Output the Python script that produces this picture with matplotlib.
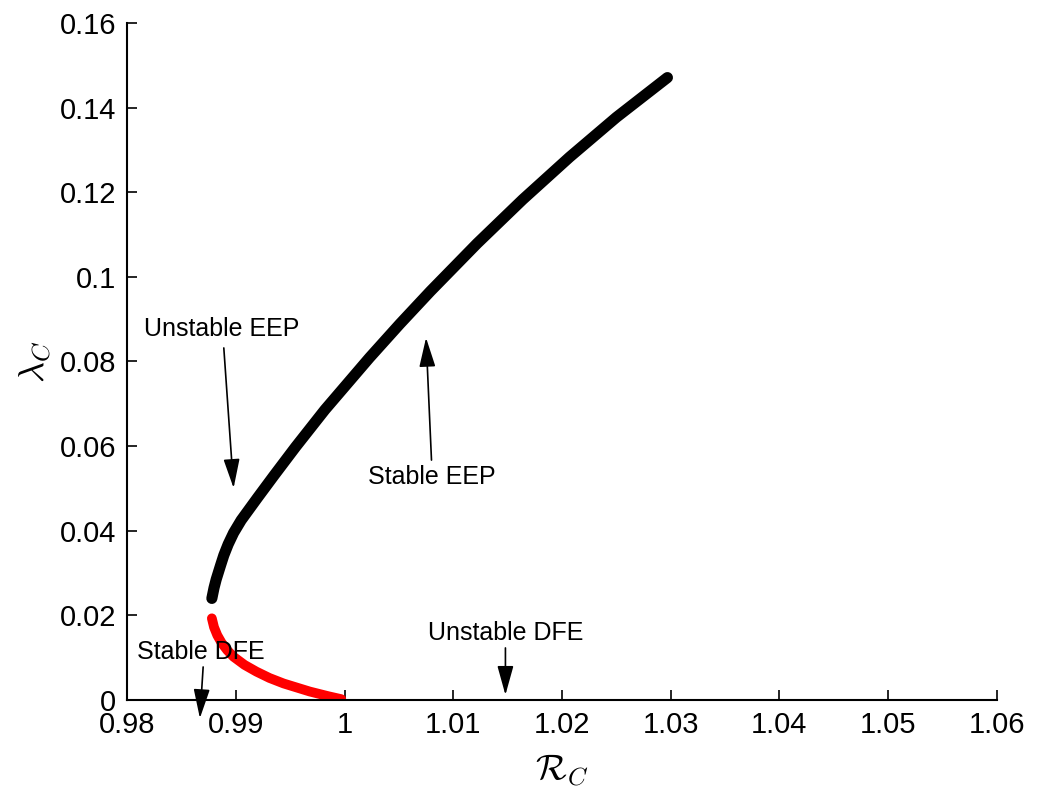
import matplotlib.pyplot as plt

plt.rcParams['font.family'] = ['Liberation Sans', 'DejaVu Sans']
plt.rcParams['mathtext.fontset'] = 'cm'

# endemic equilibrium branch (black)
eep_r = [0.9878, 0.9880, 0.9882, 0.9886, 0.9889, 0.9893, 0.9898, 0.9905,
         0.9920, 0.9935, 0.9955, 0.9982, 1.0023, 1.0051, 1.0079, 1.0122,
         1.0164, 1.0207, 1.0250, 1.0297]
eep_lam = [0.0240, 0.0265, 0.0285, 0.0318, 0.0342, 0.0368, 0.0395, 0.0425,
           0.0478, 0.0530, 0.0598, 0.0686, 0.0809, 0.0889, 0.0966, 0.1079,
           0.1183, 0.1283, 0.1377, 0.1471]

# lower branch down to R_C = 1 (red)
red_r = [0.9878, 0.9880, 0.9883, 0.9887, 0.9892, 0.9898, 0.9908, 0.9919,
         0.9931, 0.9944, 0.9968, 0.9985, 0.9997]
red_lam = [0.0193, 0.0172, 0.0153, 0.0135, 0.0118, 0.0102, 0.0083, 0.0067,
           0.0052, 0.0039, 0.0020, 0.0009, 0.0002]

xticks = [0.98, 0.99, 1.0, 1.01, 1.02, 1.03, 1.04, 1.05, 1.06]
xticklabels = ['0.98', '0.99', '1', '1.01', '1.02', '1.03', '1.04', '1.05', '1.06']
yticks = [0, 0.02, 0.04, 0.06, 0.08, 0.1, 0.12, 0.14, 0.16]
yticklabels = ['0', '0.02', '0.04', '0.06', '0.08', '0.1', '0.12', '0.14', '0.16']

fig = plt.figure(figsize=(10.43, 7.93), dpi=100)
ax = fig.add_axes([0.1218, 0.1173, 0.834, 0.8537])

ax.plot(eep_r, eep_lam, color='black', lw=8, solid_capstyle='round',
        solid_joinstyle='round')
ax.plot(red_r, red_lam, color='red', lw=7, solid_capstyle='round',
        solid_joinstyle='round')

ax.set_xlim(0.98, 1.06)
ax.set_ylim(0, 0.16)
ax.set_xticks(xticks)
ax.set_xticklabels(xticklabels)
ax.set_yticks(yticks)
ax.set_yticklabels(yticklabels)
ax.tick_params(direction='in', length=7, width=1.2, labelsize=21, pad=8)
for side in ['top', 'right']:
    ax.spines[side].set_visible(False)
for side in ['left', 'bottom']:
    ax.spines[side].set_linewidth(1.5)

ax.set_xlabel(r'$\mathcal{R}_C$', fontsize=26, labelpad=10)
ax.set_ylabel(r'$\lambda_C$', fontsize=26, labelpad=4)

arrow = dict(arrowstyle='-|>,head_length=0.9,head_width=0.25', color='black',
             lw=1.2, mutation_scale=20, shrinkA=0, shrinkB=0)

ax.text(0.9887, 0.0876, 'Unstable EEP', fontsize=18, ha='center', va='center')
ax.annotate('', xy=(0.9898, 0.0501), xytext=(0.9889, 0.0832),
            arrowprops=arrow)

ax.text(1.0080, 0.0527, 'Stable EEP', fontsize=18, ha='center', va='center')
ax.annotate('', xy=(1.0075, 0.0856), xytext=(1.0080, 0.0567),
            arrowprops=arrow)

ax.text(0.9868, 0.0113, 'Stable DFE', fontsize=18, ha='center', va='center')
ax.annotate('', xy=(0.9867, -0.0043), xytext=(0.9870, 0.0078),
            arrowprops=arrow, annotation_clip=False)

ax.text(1.0148, 0.0158, 'Unstable DFE', fontsize=18, ha='center', va='center')
ax.annotate('', xy=(1.0148, 0.0012), xytext=(1.0148, 0.0123),
            arrowprops=arrow)

fig.savefig('out.png', dpi=100)
